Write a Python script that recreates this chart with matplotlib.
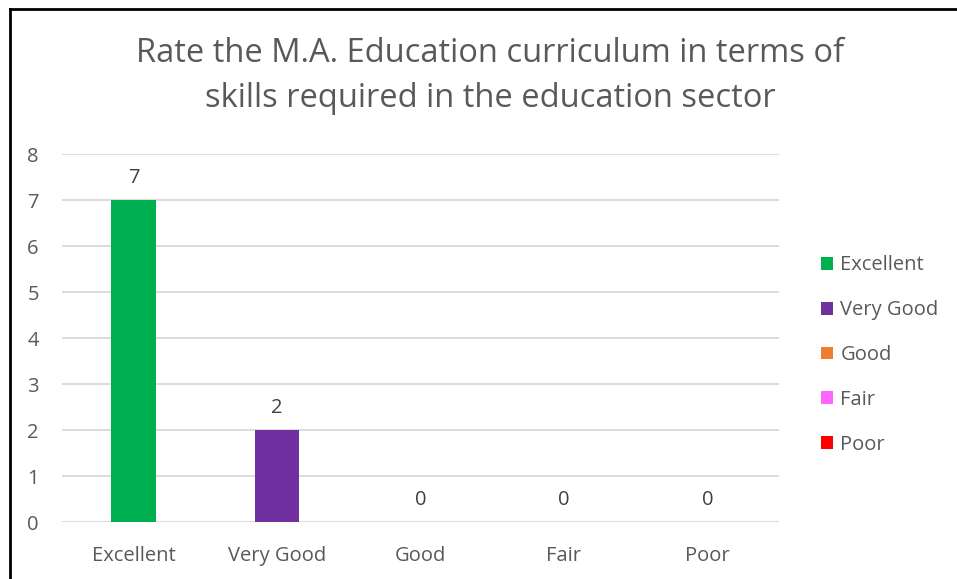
import matplotlib.pyplot as plt
from matplotlib.lines import Line2D
from matplotlib.patches import Patch

categories = ["Excellent", "Very Good", "Good", "Fair", "Poor"]
counts = [7, 2, 0, 0, 0]
colors = ["#00B050", "#7030A0", "#ED7D31", "#FF66FF", "#FF0000"]
title = "Rate the M.A. Education curriculum in terms of\nskills required in the education sector"

plt.rcParams["font.family"] = ["Open Sans", "DejaVu Sans"]
text_color = "#595959"

fig = plt.figure(figsize=(9.57, 5.79), dpi=100)
ax = fig.add_axes([62 / 957, 1 - 522 / 579, (779 - 62) / 957, (522 - 154) / 579])

x = range(len(categories))
bars = ax.bar(x, counts, width=0.31, color=colors, zorder=3)
for xi, c in zip(x, counts):
    ax.text(xi, c + 0.27, str(c), ha="center", va="bottom", fontsize=14.5, color="#404040")

ax.set_xlim(-0.5, len(categories) - 0.5)
ax.set_ylim(0, 8)
ax.set_yticks(range(0, 9))
ax.set_xticks(list(x))
ax.set_xticklabels(categories)
ax.tick_params(axis="both", length=0, labelsize=14.5, labelcolor=text_color)
ax.tick_params(axis="x", pad=17)
ax.tick_params(axis="y", pad=25)
for lbl in ax.get_yticklabels():
    lbl.set_horizontalalignment("left")
ax.grid(axis="y", color="#D9D9D9", linewidth=1.3, zorder=0)
for s in ax.spines.values():
    s.set_visible(False)

fig.text(490 / 957, 1 - 76 / 579, title, ha="center", va="center",
         fontsize=23.5, color=text_color, linespacing=1.47)

handles = [Patch(facecolor=c, edgecolor="none") for c in colors]
fig.legend(handles, categories, loc="center left", bbox_to_anchor=(803 / 957, 1 - 355 / 579),
           frameon=False, fontsize=14.5, labelcolor=text_color, handlelength=0.6, handleheight=0.6,
           handletextpad=0.35, labelspacing=1.23)

# chart border (only top and left edges visible in the crop)
fig.add_artist(Line2D([10 / 957, 10 / 957], [0, 1 - 9 / 579], color="black", linewidth=2,
                      transform=fig.transFigure))
fig.add_artist(Line2D([10 / 957, 1], [1 - 9 / 579, 1 - 9 / 579], color="black", linewidth=2,
                      transform=fig.transFigure))

fig.savefig("out.png", dpi=100)
